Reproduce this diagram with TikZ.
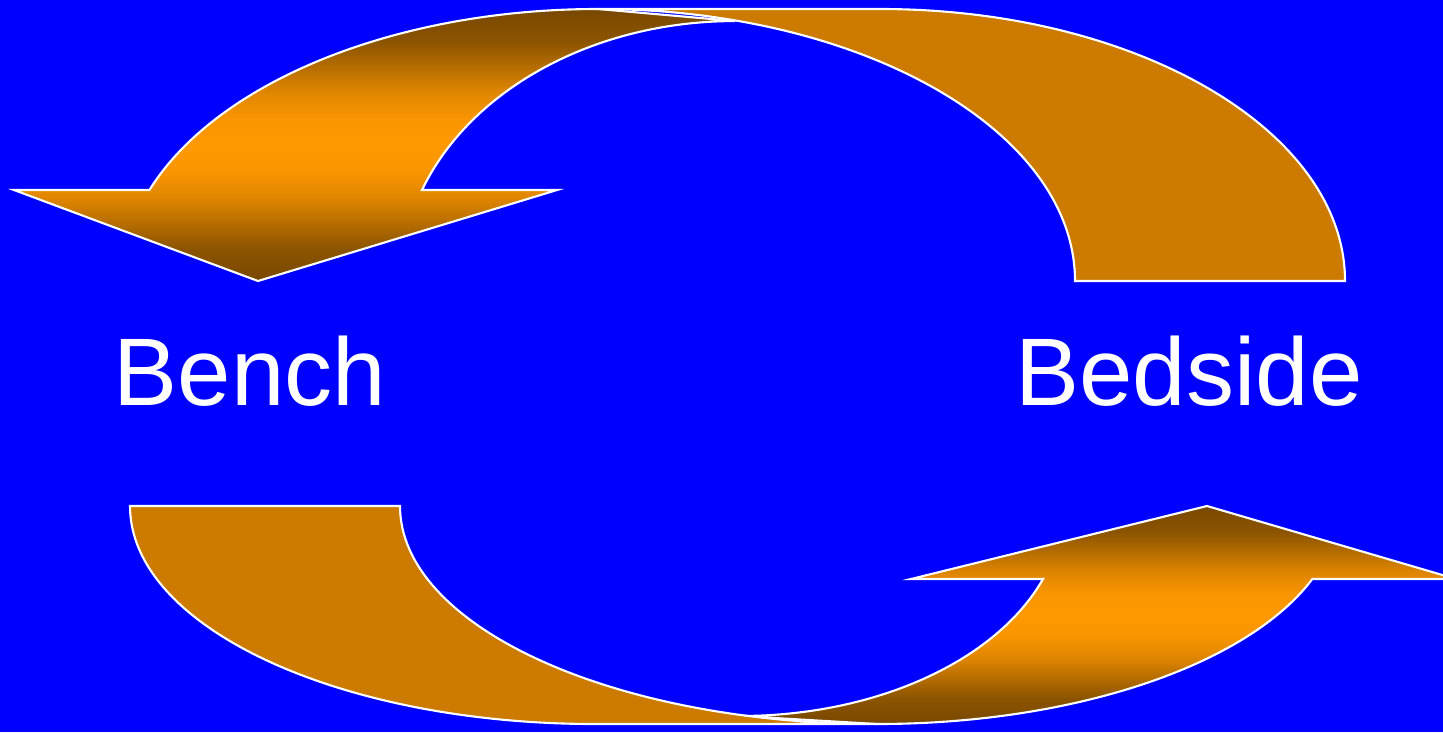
\documentclass[tikz,border=0pt]{standalone}
\usepackage{fontspec}
\setmainfont{Liberation Sans}
\definecolor{slideblue}{RGB}{0,0,255}
\definecolor{tailorange}{RGB}{204,122,0}
\definecolor{headorange}{RGB}{255,153,0}
\definecolor{headbrown}{RGB}{120,72,0}
\pgfdeclareverticalshading{headshade}{100bp}{color(0bp)=(headbrown); color(25bp)=(headbrown);
  color(31bp)=(headorange!15!headbrown); color(40bp)=(headorange!75!headbrown);
  color(45bp)=(headorange!95!headbrown); color(50bp)=(headorange);
  color(55bp)=(headorange!95!headbrown); color(60bp)=(headorange!75!headbrown);
  color(69bp)=(headorange!15!headbrown); color(75bp)=(headbrown); color(100bp)=(headbrown)}
\tikzstyle{tailband} = [draw=white, line width=0.6pt, fill=tailorange]
\tikzstyle{headband} = [draw=white, line width=0.6pt, shading=headshade]
\tikzstyle{place} = [text=white, font=\fontsize{27.3}{32}\selectfont, anchor=base, inner sep=0pt]

\begin{document}
\begin{tikzpicture}[x=0.01cm, y=0.01cm]
      \fill[slideblue] (0,0) rectangle (1443,732);
      \useasboundingbox (0,0) rectangle (1443,732);
      \clip (0,0) rectangle (1443,732);

      % upper arrow: bedside -> bench
      \path[headband] (598,723) arc[start angle=90, end angle=160.45, x radius=476, y radius=272]
        -- (14,542) -- (258,451) -- (557,542) -- (422,542)
        arc[start angle=159.5, end angle=90, x radius=334, y radius=260] -- cycle;
      \path[tailband] (1345,451) arc[start angle=0, end angle=90, x radius=465, y radius=272]
        -- (598,723) arc[start angle=90, end angle=0, x radius=477, y radius=272] -- cycle;

      % lower arrow: bench -> bedside
      \path[headband] (877,8) arc[start angle=270, end angle=340.43, x radius=462, y radius=218]
        -- (1456,153) -- (1207,226) -- (911,153) -- (1043,153)
        arc[start angle=339.65, end angle=270, x radius=323, y radius=210] -- cycle;
      \path[tailband] (130,226) arc[start angle=180, end angle=270, x radius=465, y radius=218]
        -- (877,8) arc[start angle=270, end angle=180, x radius=477, y radius=218] -- cycle;

      \node[place] (bench) at (250,327) {Bench};
      \node[place] (bedside) at (1189,327) {Bedside};
    \end{tikzpicture}
\end{document}
